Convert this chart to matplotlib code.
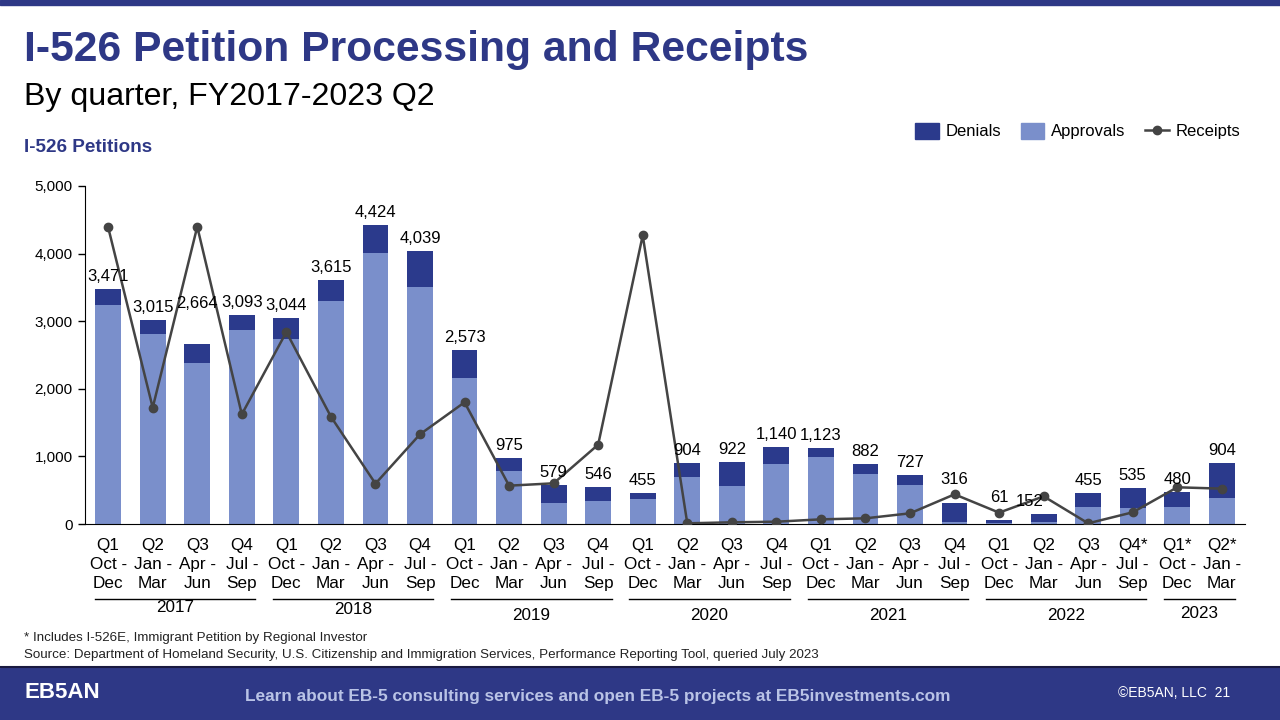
import numpy as np
import matplotlib
matplotlib.use("Agg")
import matplotlib.pyplot as plt
from matplotlib.lines import Line2D
from matplotlib.patches import Patch, Rectangle
from matplotlib.transforms import blended_transform_factory

plt.rcParams['font.family'] = ['Liberation Sans', 'DejaVu Sans']

# data
quarters = ["Q1", "Q2", "Q3", "Q4"] * 5 + ["Q1", "Q2", "Q3", "Q4*", "Q1*", "Q2*"]
months = ["Oct -\nDec", "Jan -\nMar", "Apr -\nJun", "Jul -\nSep"] * 6 + ["Oct -\nDec", "Jan -\nMar"]
years = ["2017", "2018", "2019", "2020", "2021", "2022", "2023"]
year_counts = [4, 4, 4, 4, 4, 4, 2]

totals = [3471, 3015, 2664, 3093, 3044, 3615, 4424, 4039, 2573, 975, 579, 546,
          455, 904, 922, 1140, 1123, 882, 727, 316, 61, 152, 455, 535, 480, 904]
approvals = [3240, 2811, 2386, 2870, 2742, 3299, 4009, 3506, 2160, 789, 311, 340,
             375, 695, 562, 888, 991, 740, 577, 30, 15, 30, 251, 237, 251, 390]
receipts = [4389, 1721, 4398, 1622, 2840, 1588, 597, 1327, 1800, 567, 602, 1174,
            4270, 10, 25, 34, 69, 84, 158, 439, 168, 409, 10, 173, 543, 523]

totals = np.array(totals)
approvals = np.array(approvals)
denials = totals - approvals

NAVY = "#2E3886"
DEN = "#2B3A8C"
APP = "#7A8FCB"
LINE = "#444444"

fig = plt.figure(figsize=(12.8, 7.2), dpi=100)

# header / footer bands
fig.patches.append(Rectangle((0, 1 - 5 / 720), 1, 5 / 720, transform=fig.transFigure,
                             color=NAVY, zorder=0))
fig.patches.append(Rectangle((0, 0), 1, 52 / 720, transform=fig.transFigure,
                             color=NAVY, zorder=0))
fig.add_artist(Line2D([0, 1], [53 / 720, 53 / 720], transform=fig.transFigure,
                      color="#1a1a40", lw=1.5))

fig.text(24 / 1280, 1 - 50 / 720, "I-526 Petition Processing and Receipts", fontsize=30.7,
         fontweight="bold", color=NAVY, va="center")
fig.text(24 / 1280, 1 - 97 / 720, "By quarter, FY2017-2023 Q2", fontsize=23.1,
         color="black", va="center")
fig.text(24 / 1280, 1 - 147 / 720, "I-526 Petitions", fontsize=13.6, fontweight="bold",
         color=NAVY, va="center")

ax = fig.add_axes([85 / 1280, 1 - 524 / 720, 1160 / 1280, 338 / 720])
x = np.arange(len(totals))
ax.bar(x, approvals, width=0.58, color=APP, zorder=2)
ax.bar(x, denials, width=0.58, bottom=approvals, color=DEN, zorder=2)
ax.plot(x, receipts, color=LINE, lw=1.8, marker="o", markersize=6, zorder=3)

ax.set_xlim(-0.52, len(totals) - 0.48)
ax.set_ylim(0, 5000)
ax.set_yticks(range(0, 5001, 1000))
ax.set_yticklabels([f"{v:,}" for v in range(0, 5001, 1000)], fontsize=11)
ax.tick_params(axis="y", direction="out", length=5, width=1, pad=4)
ax.set_xticks(x)
ax.set_xticklabels([f"{q}\n{m}" for q, m in zip(quarters, months)], fontsize=12.3,
                   linespacing=1.35)
ax.tick_params(axis="x", length=0, pad=10)
for s in ["top", "right"]:
    ax.spines[s].set_visible(False)
ax.spines["left"].set_color("black")
ax.spines["bottom"].set_color("black")

# value labels above bars (a few nudged to dodge the line)
nudge = {2: (0, 20), 19: (0, 8), 20: (0, 7), 21: (-10, 0)}
for i, t in enumerate(totals):
    dx, dy = nudge.get(i, (0, 0))
    ax.annotate(f"{t:,}", (i, t), xytext=(dx, 9 + dy), textcoords="offset points",
                ha="center", va="center", fontsize=12, zorder=4)

# year group lines under the tick labels
tr = blended_transform_factory(ax.transData, fig.transFigure)
start = 0
year_y = [608, 609, 615, 616, 616, 616, 613]
for yr, n, yy in zip(years, year_counts, year_y):
    x0, x1 = start - 0.3, start + n - 1 + 0.3
    ax.add_artist(Line2D([x0, x1], [1 - 599 / 720] * 2, transform=tr, color="black",
                         lw=1, clip_on=False))
    ax.text((x0 + x1) / 2, 1 - yy / 720, yr, transform=tr, ha="center", va="center",
            fontsize=12.3, clip_on=False)
    start += n

handles = [Patch(color=DEN, label="Denials"), Patch(color=APP, label="Approvals"),
           Line2D([], [], color=LINE, lw=1.8, marker="o", markersize=6, label="Receipts")]
fig.legend(handles=handles, loc="center right", bbox_to_anchor=(1240 / 1280, 1 - 131 / 720),
           ncol=3, frameon=False, fontsize=12, handlelength=1.4, handleheight=1.1,
           columnspacing=1.2, handletextpad=0.4, borderaxespad=0, borderpad=0)

fig.text(24 / 1280, 1 - 638 / 720, "* Includes I-526E, Immigrant Petition by Regional Investor",
         fontsize=9.6, color="#222222", va="center")
fig.text(24 / 1280, 1 - 655 / 720,
         "Source: Department of Homeland Security, U.S. Citizenship and Immigration Services, "
         "Performance Reporting Tool, queried July 2023",
         fontsize=9.6, color="#222222", va="center")

fig.text(62 / 1280, 1 - 693 / 720, "EB5AN", fontsize=16, fontweight="bold", color="white",
         ha="center", va="center")
fig.text(598 / 1280, 1 - 696 / 720,
         "Learn about EB-5 consulting services and open EB-5 projects at EB5investments.com",
         fontsize=12.4, fontweight="bold", color="#B9C3E6", ha="center", va="center")
fig.text(1230 / 1280, 1 - 693 / 720, "\u00a9EB5AN, LLC  21", fontsize=10, color="white",
         ha="right", va="center")

fig.savefig("out.png", dpi=100)
